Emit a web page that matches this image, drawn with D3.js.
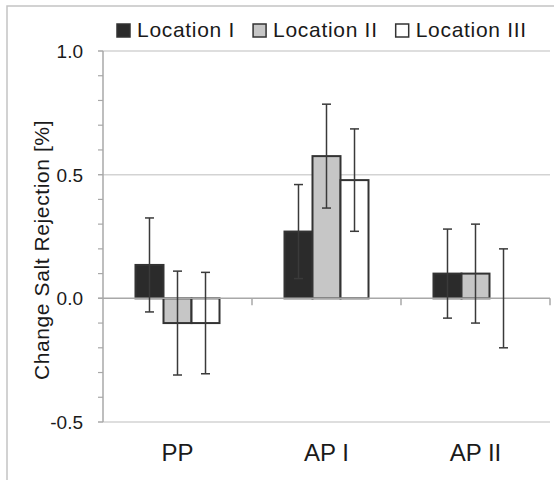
<!DOCTYPE html>
<html>
<head>
<meta charset="utf-8">
<script src="https://cdn.jsdelivr.net/npm/d3@7"></script>
<style>
  body { margin: 0; background: #fff; }
  text { font-family: "Liberation Sans", Arial, sans-serif; fill: #1a1a1a; }
</style>
</head>
<body>
<div id="chart"></div>
<script>
// data
let categories = ["PP", "AP I", "AP II"]
let series = ["Location I", "Location II", "Location III"]
let loc1 = [0.135, 0.27, 0.10]
let loc2 = [-0.10, 0.575, 0.10]
let loc3 = [-0.10, 0.478, 0]
let err1 = [0.19, 0.19, 0.18]
let err2 = [0.21, 0.21, 0.20]
let err3 = [0.205, 0.207, 0.20]
let yTicks = [-0.5, 0, 0.5, 1.0]

let width = 554,
    height = 480

let svg = d3.select("#chart").append("svg")
    .attr("width", width)
    .attr("height", height)

let fills = ["#2b2b2b", "#c6c6c6", "#ffffff"]
let vals = [loc1, loc2, loc3]
let errs = [err1, err2, err3]

let rows = []
categories.forEach((c, i) => {
    series.forEach((s, j) => {
        rows.push({cat: c, ser: s, v: vals[j][i], e: errs[j][i], fill: fills[j]})
    })
})

// outer frame
svg.append("rect")
    .attr("x", 7).attr("y", 6)
    .attr("width", 560).attr("height", 500)
    .attr("fill", "none")
    .attr("stroke", "#c4c4c4")
    .attr("stroke-width", 1.5)

let x0 = d3.scaleBand()
    .domain(categories)
    .range([103, 550])

let x1 = d3.scaleBand()
    .domain(series)
    .range([0, x0.bandwidth()])
    .paddingOuter(1.16)

let y = d3.scaleLinear()
    .domain([-0.5, 1.0])
    .range([422, 51])

// gridlines
svg.append("g")
    .selectAll("line")
    .data(yTicks.filter(d => d != 0))
    .enter()
    .append("line")
    .attr("x1", 98).attr("x2", 550)
    .attr("y1", d => y(d)).attr("y2", d => y(d))
    .attr("stroke", "#d3d3d3")
    .attr("stroke-width", 1.5)

// y axis with minor ticks
svg.append("line")
    .attr("x1", 103).attr("x2", 103)
    .attr("y1", y(1.0)).attr("y2", y(-0.5))
    .attr("stroke", "#a8a8a8")
    .attr("stroke-width", 1.5)

svg.append("g")
    .selectAll("line")
    .data(d3.range(-5, 11).map(d => d / 10))
    .enter()
    .append("line")
    .attr("x1", 98).attr("x2", 103)
    .attr("y1", d => y(d)).attr("y2", d => y(d))
    .attr("stroke", "#a8a8a8")
    .attr("stroke-width", 1.2)

let fmt = d => d3.format(".1f")(d).replace("\u2212", "-")
svg.append("g")
    .selectAll("text")
    .data(yTicks)
    .enter()
    .append("text")
    .attr("x", 83)
    .attr("y", d => y(d) + 7)
    .attr("text-anchor", "end")
    .style("font-size", "19px")
    .text(fmt)

// y title
svg.append("text")
    .attr("transform", `translate(49, ${250}) rotate(-90)`)
    .attr("text-anchor", "middle")
    .style("font-size", "21px")
    .style("letter-spacing", "0.6px")
    .text("Change Salt Rejection [%]")

// bars
svg.append("g")
    .selectAll("rect")
    .data(rows.filter(d => d.v != 0))
    .enter()
    .append("rect")
    .attr("x", d => x0(d.cat) + x1(d.ser))
    .attr("width", x1.bandwidth())
    .attr("y", d => y(Math.max(0, d.v)))
    .attr("height", d => Math.abs(y(d.v) - y(0)))
    .attr("fill", d => d.fill)
    .attr("stroke", "#333")
    .attr("stroke-width", 2)

// zero line + category ticks
svg.append("line")
    .attr("x1", 98).attr("x2", 550)
    .attr("y1", y(0)).attr("y2", y(0))
    .attr("stroke", "#a8a8a8")
    .attr("stroke-width", 1.5)

svg.append("g")
    .selectAll("line")
    .data(categories)
    .enter()
    .append("line")
    .attr("x1", d => x0(d) + x0.bandwidth()).attr("x2", d => x0(d) + x0.bandwidth())
    .attr("y1", y(0)).attr("y2", y(0) + 7)
    .attr("stroke", "#a8a8a8")
    .attr("stroke-width", 1.5)

// error bars
let eb = svg.append("g")
    .selectAll("g")
    .data(rows)
    .enter()
    .append("g")
    .attr("stroke", "#3a3a3a")
    .attr("stroke-width", 1.5)

let cx = d => x0(d.cat) + x1(d.ser) + x1.bandwidth() / 2
eb.append("line")
    .attr("x1", cx).attr("x2", cx)
    .attr("y1", d => y(d.v + d.e)).attr("y2", d => y(d.v - d.e))
eb.append("line")
    .attr("x1", d => cx(d) - 4.5).attr("x2", d => cx(d) + 4.5)
    .attr("y1", d => y(d.v + d.e)).attr("y2", d => y(d.v + d.e))
eb.append("line")
    .attr("x1", d => cx(d) - 4.5).attr("x2", d => cx(d) + 4.5)
    .attr("y1", d => y(d.v - d.e)).attr("y2", d => y(d.v - d.e))

// category labels
svg.append("g")
    .selectAll("text")
    .data(categories)
    .enter()
    .append("text")
    .attr("x", d => x0(d) + x0.bandwidth() / 2)
    .attr("y", 461)
    .attr("text-anchor", "middle")
    .style("font-size", "24px")
    .text(d => d)

// legend
let lx = 117
series.forEach((s, j) => {
    svg.append("rect")
        .attr("x", lx).attr("y", 24)
        .attr("width", 13).attr("height", 13)
        .attr("fill", fills[j])
        .attr("stroke", "#333")
        .attr("stroke-width", 1.5)
    let t = svg.append("text")
        .attr("x", lx + 20)
        .attr("y", 37)
        .style("font-size", "21px")
        .style("letter-spacing", "0.7px")
        .text(s)
    lx += 20 + t.node().getComputedTextLength() + 18
})
</script>
</body>
</html>
